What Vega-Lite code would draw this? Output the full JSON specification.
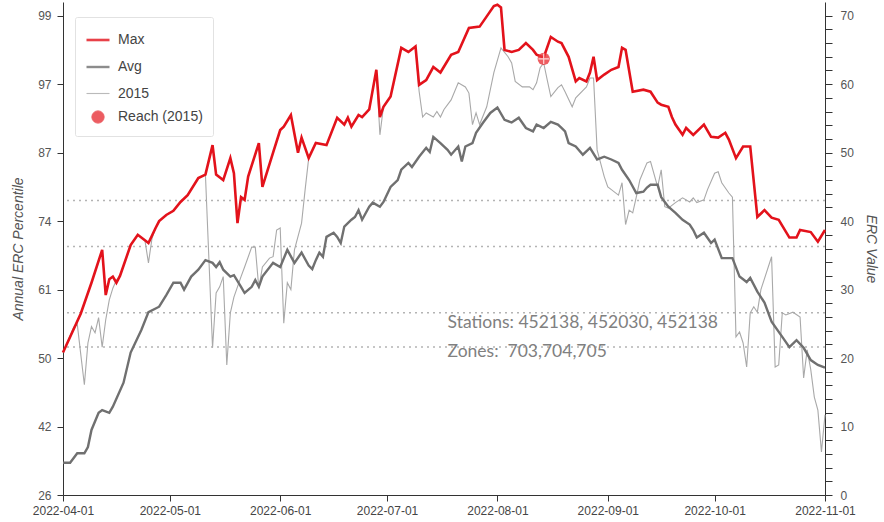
{
  "$schema": "https://vega.github.io/schema/vega-lite/v6.json",
  "width": 762,
  "height": 493,
  "autosize": {"type": "none"},
  "padding": {"left": 63, "top": 2, "right": 59, "bottom": 27},
  "background": "white",
  "config": {
    "view": {"stroke": null},
    "font": "Liberation Sans",
    "axis": {
      "labelFont": "Liberation Sans",
      "labelFontSize": 12,
      "labelColor": "#555555",
      "titleFont": "Liberation Sans",
      "titleColor": "#555555",
      "titleFontSize": 14,
      "titleFontStyle": "italic",
      "titleFontWeight": "normal",
      "domainColor": "#333333",
      "tickColor": "#333333",
      "grid": false
    },
    "legend": {
      "title": null, "orient": "none", "legendX": 12, "legendY": 15,
      "padding": 10, "strokeColor": "#e2e2e2", "fillColor": "#ffffff", "cornerRadius": 2,
      "rowPadding": 7, "labelOffset": 7,
      "labelFont": "Liberation Sans", "labelFontSize": 14, "labelColor": "#444444"
    }
  },
  "datasets": {
    "thr": [{"v": 43}, {"v": 36.3}, {"v": 26.6}, {"v": 21.6}],
    "reach": [{"date": "2022-08-14", "value": 63.7, "series": "Reach (2015)"}],
    "notes": [
      {"date": "2022-07-18", "v": 25.1, "t": "Stations: 452138, 452030, 452138"},
      {"date": "2022-07-18", "v": 20.9, "t": "Zones:\u00a0 703,704,705"}
    ],
    "series": [
      {"date":"2022-04-01","series":"Max","value":20.8},{"date":"2022-04-06","series":"Max","value":26.5},{"date":"2022-04-09","series":"Max","value":31},{"date":"2022-04-12","series":"Max","value":35.8},{"date":"2022-04-13","series":"Max","value":29.2},{"date":"2022-04-14","series":"Max","value":31.5},{"date":"2022-04-15","series":"Max","value":31.9},{"date":"2022-04-16","series":"Max","value":31},{"date":"2022-04-17","series":"Max","value":32},{"date":"2022-04-20","series":"Max","value":36.5},{"date":"2022-04-22","series":"Max","value":38},{"date":"2022-04-24","series":"Max","value":37.2},{"date":"2022-04-25","series":"Max","value":36.8},{"date":"2022-04-27","series":"Max","value":39},{"date":"2022-04-28","series":"Max","value":40},{"date":"2022-04-30","series":"Max","value":40.9},{"date":"2022-05-02","series":"Max","value":41.5},{"date":"2022-05-04","series":"Max","value":42.8},{"date":"2022-05-06","series":"Max","value":43.8},{"date":"2022-05-09","series":"Max","value":46.3},{"date":"2022-05-11","series":"Max","value":46.8},{"date":"2022-05-13","series":"Max","value":51.1},{"date":"2022-05-14","series":"Max","value":46.8},{"date":"2022-05-16","series":"Max","value":46},{"date":"2022-05-18","series":"Max","value":49.2},{"date":"2022-05-19","series":"Max","value":47},{"date":"2022-05-20","series":"Max","value":39.7},{"date":"2022-05-21","series":"Max","value":43.5},{"date":"2022-05-22","series":"Max","value":43.1},{"date":"2022-05-23","series":"Max","value":46.5},{"date":"2022-05-26","series":"Max","value":51.4},{"date":"2022-05-27","series":"Max","value":45},{"date":"2022-05-30","series":"Max","value":50},{"date":"2022-06-01","series":"Max","value":53.3},{"date":"2022-06-02","series":"Max","value":53.8},{"date":"2022-06-04","series":"Max","value":55.5},{"date":"2022-06-06","series":"Max","value":50},{"date":"2022-06-07","series":"Max","value":52.2},{"date":"2022-06-09","series":"Max","value":49.2},{"date":"2022-06-11","series":"Max","value":51.4},{"date":"2022-06-14","series":"Max","value":51.1},{"date":"2022-06-17","series":"Max","value":55.1},{"date":"2022-06-19","series":"Max","value":54.1},{"date":"2022-06-20","series":"Max","value":55.1},{"date":"2022-06-21","series":"Max","value":53.8},{"date":"2022-06-23","series":"Max","value":55.5},{"date":"2022-06-24","series":"Max","value":55.2},{"date":"2022-06-26","series":"Max","value":56.3},{"date":"2022-06-28","series":"Max","value":62.1},{"date":"2022-06-29","series":"Max","value":55.2},{"date":"2022-06-30","series":"Max","value":56.7},{"date":"2022-07-02","series":"Max","value":58.2},{"date":"2022-07-05","series":"Max","value":65.3},{"date":"2022-07-06","series":"Max","value":65},{"date":"2022-07-07","series":"Max","value":64.7},{"date":"2022-07-09","series":"Max","value":65.5},{"date":"2022-07-10","series":"Max","value":59.9},{"date":"2022-07-12","series":"Max","value":60.6},{"date":"2022-07-14","series":"Max","value":62.5},{"date":"2022-07-16","series":"Max","value":61.7},{"date":"2022-07-19","series":"Max","value":64.3},{"date":"2022-07-21","series":"Max","value":64.7},{"date":"2022-07-24","series":"Max","value":68.2},{"date":"2022-07-27","series":"Max","value":68.4},{"date":"2022-07-29","series":"Max","value":69.9},{"date":"2022-07-31","series":"Max","value":71.4},{"date":"2022-08-01","series":"Max","value":71.6},{"date":"2022-08-02","series":"Max","value":71.2},{"date":"2022-08-03","series":"Max","value":65},{"date":"2022-08-05","series":"Max","value":64.7},{"date":"2022-08-07","series":"Max","value":65},{"date":"2022-08-09","series":"Max","value":66},{"date":"2022-08-11","series":"Max","value":65},{"date":"2022-08-12","series":"Max","value":64.3},{"date":"2022-08-14","series":"Max","value":63.9},{"date":"2022-08-16","series":"Max","value":66.9},{"date":"2022-08-18","series":"Max","value":66.2},{"date":"2022-08-19","series":"Max","value":66},{"date":"2022-08-21","series":"Max","value":64},{"date":"2022-08-23","series":"Max","value":60.4},{"date":"2022-08-24","series":"Max","value":60.9},{"date":"2022-08-26","series":"Max","value":60.4},{"date":"2022-08-27","series":"Max","value":61.7},{"date":"2022-08-28","series":"Max","value":64},{"date":"2022-08-29","series":"Max","value":60.6},{"date":"2022-08-31","series":"Max","value":61.4},{"date":"2022-09-02","series":"Max","value":62.1},{"date":"2022-09-04","series":"Max","value":62.5},{"date":"2022-09-05","series":"Max","value":65.3},{"date":"2022-09-06","series":"Max","value":65},{"date":"2022-09-08","series":"Max","value":58.9},{"date":"2022-09-11","series":"Max","value":59.2},{"date":"2022-09-13","series":"Max","value":58.9},{"date":"2022-09-15","series":"Max","value":57.3},{"date":"2022-09-16","series":"Max","value":57},{"date":"2022-09-18","series":"Max","value":56.7},{"date":"2022-09-19","series":"Max","value":55.2},{"date":"2022-09-20","series":"Max","value":54.1},{"date":"2022-09-22","series":"Max","value":52.6},{"date":"2022-09-23","series":"Max","value":53.6},{"date":"2022-09-25","series":"Max","value":52.6},{"date":"2022-09-28","series":"Max","value":54.1},{"date":"2022-09-30","series":"Max","value":52.3},{"date":"2022-10-02","series":"Max","value":52.2},{"date":"2022-10-04","series":"Max","value":52.9},{"date":"2022-10-05","series":"Max","value":51.9},{"date":"2022-10-07","series":"Max","value":49.2},{"date":"2022-10-09","series":"Max","value":50.9},{"date":"2022-10-11","series":"Max","value":50.9},{"date":"2022-10-13","series":"Max","value":40.6},{"date":"2022-10-15","series":"Max","value":41.6},{"date":"2022-10-17","series":"Max","value":40.5},{"date":"2022-10-19","series":"Max","value":40.2},{"date":"2022-10-22","series":"Max","value":37.6},{"date":"2022-10-24","series":"Max","value":37.6},{"date":"2022-10-25","series":"Max","value":38.7},{"date":"2022-10-28","series":"Max","value":38.4},{"date":"2022-10-30","series":"Max","value":37},{"date":"2022-11-01","series":"Max","value":38.7},
      {"date":"2022-04-01","series":"Avg","value":4.7},{"date":"2022-04-03","series":"Avg","value":4.7},{"date":"2022-04-05","series":"Avg","value":6.1},{"date":"2022-04-07","series":"Avg","value":6.1},{"date":"2022-04-08","series":"Avg","value":7},{"date":"2022-04-09","series":"Avg","value":9.5},{"date":"2022-04-11","series":"Avg","value":12},{"date":"2022-04-12","series":"Avg","value":12.4},{"date":"2022-04-14","series":"Avg","value":12},{"date":"2022-04-15","series":"Avg","value":12.9},{"date":"2022-04-18","series":"Avg","value":16.4},{"date":"2022-04-20","series":"Avg","value":20.8},{"date":"2022-04-23","series":"Avg","value":24.1},{"date":"2022-04-25","series":"Avg","value":26.7},{"date":"2022-04-28","series":"Avg","value":27.5},{"date":"2022-04-30","series":"Avg","value":29.2},{"date":"2022-05-02","series":"Avg","value":31},{"date":"2022-05-04","series":"Avg","value":31},{"date":"2022-05-05","series":"Avg","value":30},{"date":"2022-05-07","series":"Avg","value":31.9},{"date":"2022-05-09","series":"Avg","value":32.9},{"date":"2022-05-11","series":"Avg","value":34.3},{"date":"2022-05-13","series":"Avg","value":33.9},{"date":"2022-05-14","series":"Avg","value":33.3},{"date":"2022-05-15","series":"Avg","value":34},{"date":"2022-05-16","series":"Avg","value":32.9},{"date":"2022-05-18","series":"Avg","value":31.9},{"date":"2022-05-19","series":"Avg","value":32.1},{"date":"2022-05-21","series":"Avg","value":30.4},{"date":"2022-05-22","series":"Avg","value":29.5},{"date":"2022-05-24","series":"Avg","value":30.4},{"date":"2022-05-25","series":"Avg","value":31.4},{"date":"2022-05-26","series":"Avg","value":30.4},{"date":"2022-05-27","series":"Avg","value":31.9},{"date":"2022-05-30","series":"Avg","value":33.9},{"date":"2022-06-01","series":"Avg","value":33.3},{"date":"2022-06-03","series":"Avg","value":35.8},{"date":"2022-06-05","series":"Avg","value":33.9},{"date":"2022-06-07","series":"Avg","value":35.4},{"date":"2022-06-09","series":"Avg","value":33.5},{"date":"2022-06-10","series":"Avg","value":33},{"date":"2022-06-11","series":"Avg","value":34.3},{"date":"2022-06-12","series":"Avg","value":35.4},{"date":"2022-06-13","series":"Avg","value":34.8},{"date":"2022-06-14","series":"Avg","value":37.7},{"date":"2022-06-16","series":"Avg","value":38.3},{"date":"2022-06-17","series":"Avg","value":37.7},{"date":"2022-06-18","series":"Avg","value":36.8},{"date":"2022-06-19","series":"Avg","value":39.2},{"date":"2022-06-21","series":"Avg","value":40.2},{"date":"2022-06-22","series":"Avg","value":40.6},{"date":"2022-06-23","series":"Avg","value":41.6},{"date":"2022-06-24","series":"Avg","value":40.2},{"date":"2022-06-26","series":"Avg","value":42.1},{"date":"2022-06-27","series":"Avg","value":42.7},{"date":"2022-06-29","series":"Avg","value":42.1},{"date":"2022-06-30","series":"Avg","value":42.8},{"date":"2022-07-02","series":"Avg","value":45},{"date":"2022-07-04","series":"Avg","value":46},{"date":"2022-07-05","series":"Avg","value":47.5},{"date":"2022-07-07","series":"Avg","value":48.5},{"date":"2022-07-08","series":"Avg","value":47.9},{"date":"2022-07-10","series":"Avg","value":49.4},{"date":"2022-07-12","series":"Avg","value":50.7},{"date":"2022-07-13","series":"Avg","value":50.1},{"date":"2022-07-14","series":"Avg","value":52.3},{"date":"2022-07-16","series":"Avg","value":51.4},{"date":"2022-07-18","series":"Avg","value":50.4},{"date":"2022-07-19","series":"Avg","value":49.7},{"date":"2022-07-21","series":"Avg","value":50.9},{"date":"2022-07-22","series":"Avg","value":48.7},{"date":"2022-07-23","series":"Avg","value":50.9},{"date":"2022-07-25","series":"Avg","value":51.4},{"date":"2022-07-26","series":"Avg","value":52.9},{"date":"2022-07-28","series":"Avg","value":54.4},{"date":"2022-07-30","series":"Avg","value":55.8},{"date":"2022-08-01","series":"Avg","value":56.6},{"date":"2022-08-03","series":"Avg","value":54.8},{"date":"2022-08-05","series":"Avg","value":54.4},{"date":"2022-08-07","series":"Avg","value":55.1},{"date":"2022-08-09","series":"Avg","value":53.6},{"date":"2022-08-11","series":"Avg","value":53.1},{"date":"2022-08-12","series":"Avg","value":54.1},{"date":"2022-08-14","series":"Avg","value":53.6},{"date":"2022-08-16","series":"Avg","value":54.5},{"date":"2022-08-18","series":"Avg","value":54.1},{"date":"2022-08-19","series":"Avg","value":53.6},{"date":"2022-08-20","series":"Avg","value":53.1},{"date":"2022-08-21","series":"Avg","value":51.4},{"date":"2022-08-23","series":"Avg","value":50.9},{"date":"2022-08-25","series":"Avg","value":49.7},{"date":"2022-08-27","series":"Avg","value":50.7},{"date":"2022-08-29","series":"Avg","value":49},{"date":"2022-08-31","series":"Avg","value":49.4},{"date":"2022-09-02","series":"Avg","value":49},{"date":"2022-09-04","series":"Avg","value":48.5},{"date":"2022-09-05","series":"Avg","value":47.5},{"date":"2022-09-07","series":"Avg","value":46},{"date":"2022-09-09","series":"Avg","value":44.1},{"date":"2022-09-11","series":"Avg","value":44.3},{"date":"2022-09-12","series":"Avg","value":44.9},{"date":"2022-09-13","series":"Avg","value":45.3},{"date":"2022-09-15","series":"Avg","value":45.3},{"date":"2022-09-16","series":"Avg","value":43.5},{"date":"2022-09-18","series":"Avg","value":42.1},{"date":"2022-09-20","series":"Avg","value":41.2},{"date":"2022-09-22","series":"Avg","value":40.2},{"date":"2022-09-24","series":"Avg","value":39.5},{"date":"2022-09-25","series":"Avg","value":38.7},{"date":"2022-09-26","series":"Avg","value":37.6},{"date":"2022-09-28","series":"Avg","value":38.3},{"date":"2022-09-30","series":"Avg","value":36.8},{"date":"2022-10-01","series":"Avg","value":37.3},{"date":"2022-10-03","series":"Avg","value":34.6},{"date":"2022-10-06","series":"Avg","value":34.6},{"date":"2022-10-08","series":"Avg","value":31.9},{"date":"2022-10-10","series":"Avg","value":31.1},{"date":"2022-10-11","series":"Avg","value":31.7},{"date":"2022-10-13","series":"Avg","value":29.7},{"date":"2022-10-15","series":"Avg","value":28.1},{"date":"2022-10-17","series":"Avg","value":25.3},{"date":"2022-10-20","series":"Avg","value":23.1},{"date":"2022-10-22","series":"Avg","value":21.6},{"date":"2022-10-24","series":"Avg","value":22.6},{"date":"2022-10-26","series":"Avg","value":21.5},{"date":"2022-10-28","series":"Avg","value":19.7},{"date":"2022-10-30","series":"Avg","value":19},{"date":"2022-11-01","series":"Avg","value":18.6},
      {"date":"2022-04-01","series":"2015","value":20.8},{"date":"2022-04-04","series":"2015","value":24.5},{"date":"2022-04-05","series":"2015","value":25},{"date":"2022-04-06","series":"2015","value":20.5},{"date":"2022-04-07","series":"2015","value":16.1},{"date":"2022-04-08","series":"2015","value":22.2},{"date":"2022-04-09","series":"2015","value":24.6},{"date":"2022-04-10","series":"2015","value":23.7},{"date":"2022-04-11","series":"2015","value":25.9},{"date":"2022-04-12","series":"2015","value":21.6},{"date":"2022-04-13","series":"2015","value":25.6},{"date":"2022-04-14","series":"2015","value":28.5},{"date":"2022-04-15","series":"2015","value":30.2},{"date":"2022-04-16","series":"2015","value":31.4},{"date":"2022-04-17","series":"2015","value":32},{"date":"2022-04-20","series":"2015","value":36.5},{"date":"2022-04-22","series":"2015","value":38},{"date":"2022-04-24","series":"2015","value":37.2},{"date":"2022-04-25","series":"2015","value":33.9},{"date":"2022-04-26","series":"2015","value":37.5},{"date":"2022-04-27","series":"2015","value":39},{"date":"2022-04-28","series":"2015","value":40},{"date":"2022-04-30","series":"2015","value":40.9},{"date":"2022-05-02","series":"2015","value":41.5},{"date":"2022-05-04","series":"2015","value":42.8},{"date":"2022-05-06","series":"2015","value":43.8},{"date":"2022-05-09","series":"2015","value":46.3},{"date":"2022-05-11","series":"2015","value":46.8},{"date":"2022-05-13","series":"2015","value":21.5},{"date":"2022-05-14","series":"2015","value":29.5},{"date":"2022-05-15","series":"2015","value":30.4},{"date":"2022-05-16","series":"2015","value":31.9},{"date":"2022-05-17","series":"2015","value":19},{"date":"2022-05-18","series":"2015","value":26.6},{"date":"2022-05-19","series":"2015","value":28.9},{"date":"2022-05-21","series":"2015","value":31.9},{"date":"2022-05-22","series":"2015","value":33.3},{"date":"2022-05-24","series":"2015","value":36.2},{"date":"2022-05-25","series":"2015","value":36.2},{"date":"2022-05-26","series":"2015","value":30.2},{"date":"2022-05-27","series":"2015","value":33.3},{"date":"2022-05-29","series":"2015","value":34.6},{"date":"2022-05-30","series":"2015","value":34.8},{"date":"2022-05-31","series":"2015","value":38.7},{"date":"2022-06-01","series":"2015","value":39},{"date":"2022-06-02","series":"2015","value":25.1},{"date":"2022-06-03","series":"2015","value":31},{"date":"2022-06-04","series":"2015","value":30},{"date":"2022-06-05","series":"2015","value":35.8},{"date":"2022-06-07","series":"2015","value":39.7},{"date":"2022-06-08","series":"2015","value":44.6},{"date":"2022-06-09","series":"2015","value":49.2},{"date":"2022-06-11","series":"2015","value":51.4},{"date":"2022-06-14","series":"2015","value":51.1},{"date":"2022-06-17","series":"2015","value":55.1},{"date":"2022-06-19","series":"2015","value":54.1},{"date":"2022-06-20","series":"2015","value":55.1},{"date":"2022-06-21","series":"2015","value":53.8},{"date":"2022-06-23","series":"2015","value":55.5},{"date":"2022-06-24","series":"2015","value":55.2},{"date":"2022-06-26","series":"2015","value":56.3},{"date":"2022-06-28","series":"2015","value":62.1},{"date":"2022-06-29","series":"2015","value":52.6},{"date":"2022-06-30","series":"2015","value":56.7},{"date":"2022-07-02","series":"2015","value":58.2},{"date":"2022-07-05","series":"2015","value":65.3},{"date":"2022-07-06","series":"2015","value":65},{"date":"2022-07-07","series":"2015","value":64.7},{"date":"2022-07-09","series":"2015","value":65.5},{"date":"2022-07-10","series":"2015","value":59},{"date":"2022-07-11","series":"2015","value":55.2},{"date":"2022-07-12","series":"2015","value":55.8},{"date":"2022-07-14","series":"2015","value":55.2},{"date":"2022-07-15","series":"2015","value":56},{"date":"2022-07-16","series":"2015","value":55.2},{"date":"2022-07-17","series":"2015","value":56.3},{"date":"2022-07-19","series":"2015","value":57.7},{"date":"2022-07-21","series":"2015","value":60.2},{"date":"2022-07-23","series":"2015","value":59.6},{"date":"2022-07-24","series":"2015","value":58.7},{"date":"2022-07-25","series":"2015","value":54.1},{"date":"2022-07-26","series":"2015","value":55.8},{"date":"2022-07-27","series":"2015","value":54.1},{"date":"2022-07-29","series":"2015","value":56.7},{"date":"2022-07-31","series":"2015","value":61.7},{"date":"2022-08-02","series":"2015","value":65.3},{"date":"2022-08-04","series":"2015","value":64},{"date":"2022-08-05","series":"2015","value":63.1},{"date":"2022-08-06","series":"2015","value":60.4},{"date":"2022-08-08","series":"2015","value":59.6},{"date":"2022-08-10","series":"2015","value":59.6},{"date":"2022-08-11","series":"2015","value":59.2},{"date":"2022-08-12","series":"2015","value":60.2},{"date":"2022-08-13","series":"2015","value":62.4},{"date":"2022-08-14","series":"2015","value":63.1},{"date":"2022-08-15","series":"2015","value":60.6},{"date":"2022-08-16","series":"2015","value":58.2},{"date":"2022-08-18","series":"2015","value":59.5},{"date":"2022-08-19","series":"2015","value":59.9},{"date":"2022-08-20","series":"2015","value":58.9},{"date":"2022-08-22","series":"2015","value":56.7},{"date":"2022-08-23","series":"2015","value":58},{"date":"2022-08-26","series":"2015","value":59.6},{"date":"2022-08-27","series":"2015","value":60.9},{"date":"2022-08-28","series":"2015","value":60.9},{"date":"2022-08-29","series":"2015","value":50.4},{"date":"2022-08-31","series":"2015","value":46.5},{"date":"2022-09-01","series":"2015","value":45},{"date":"2022-09-02","series":"2015","value":44.6},{"date":"2022-09-04","series":"2015","value":43.8},{"date":"2022-09-05","series":"2015","value":45.6},{"date":"2022-09-06","series":"2015","value":39.5},{"date":"2022-09-07","series":"2015","value":41.6},{"date":"2022-09-08","series":"2015","value":41.2},{"date":"2022-09-09","series":"2015","value":43.5},{"date":"2022-09-10","series":"2015","value":46},{"date":"2022-09-12","series":"2015","value":48.5},{"date":"2022-09-13","series":"2015","value":48.7},{"date":"2022-09-15","series":"2015","value":45},{"date":"2022-09-16","series":"2015","value":47.5},{"date":"2022-09-17","series":"2015","value":42.1},{"date":"2022-09-18","series":"2015","value":41.9},{"date":"2022-09-20","series":"2015","value":42.7},{"date":"2022-09-22","series":"2015","value":43.4},{"date":"2022-09-24","series":"2015","value":42.8},{"date":"2022-09-25","series":"2015","value":43.4},{"date":"2022-09-26","series":"2015","value":42.7},{"date":"2022-09-28","series":"2015","value":43.1},{"date":"2022-09-29","series":"2015","value":44.6},{"date":"2022-10-01","series":"2015","value":47},{"date":"2022-10-02","series":"2015","value":47.2},{"date":"2022-10-03","series":"2015","value":45.6},{"date":"2022-10-05","series":"2015","value":44.1},{"date":"2022-10-06","series":"2015","value":43.5},{"date":"2022-10-07","series":"2015","value":23.1},{"date":"2022-10-08","series":"2015","value":23.8},{"date":"2022-10-09","series":"2015","value":22.2},{"date":"2022-10-10","series":"2015","value":18.7},{"date":"2022-10-11","series":"2015","value":26.6},{"date":"2022-10-12","series":"2015","value":27.5},{"date":"2022-10-13","series":"2015","value":26.7},{"date":"2022-10-14","series":"2015","value":30},{"date":"2022-10-17","series":"2015","value":34.8},{"date":"2022-10-18","series":"2015","value":18.7},{"date":"2022-10-19","series":"2015","value":19},{"date":"2022-10-20","series":"2015","value":26.6},{"date":"2022-10-21","series":"2015","value":26.3},{"date":"2022-10-23","series":"2015","value":26.7},{"date":"2022-10-25","series":"2015","value":26},{"date":"2022-10-26","series":"2015","value":17.1},{"date":"2022-10-27","series":"2015","value":21.2},{"date":"2022-10-28","series":"2015","value":18.3},{"date":"2022-10-29","series":"2015","value":14.3},{"date":"2022-10-30","series":"2015","value":12.4},{"date":"2022-10-31","series":"2015","value":6.3},{"date":"2022-11-01","series":"2015","value":11.7}
    ]
  },
  "layer": [
    {
      "data": {"name": "thr"},
      "mark": {"type": "rule", "color": "#b4b4b4", "strokeDash": [2, 4], "strokeWidth": 1.5},
      "encoding": {
        "y": {
          "field": "v", "type": "quantitative",
          "scale": {"domain": [0, 72], "nice": false, "zero": false},
          "axis": {
            "orient": "left",
            "title": "Annual ERC Percentile",
            "values": [0, 10, 20, 30, 40, 50, 60, 70],
            "labelExpr": "['26','42','50','61','74','87','97','99'][round(datum.value/10)]",
            "tickSize": 6,
            "labelPadding": 6,
            "titlePadding": 12
          }
        }
      }
    },
    {
      "data": {"name": "series"},
      "transform": [{"filter": "datum.series === '2015'"}],
      "mark": {"type": "line"},
      "encoding": {
        "x": {
          "field": "date", "type": "temporal",
          "scale": {"type": "utc", "domain": [{"year": 2022, "month": "apr", "date": 1, "utc": true}, {"year": 2022, "month": "nov", "date": 1, "utc": true}]},
          "axis": {
            "title": null,
            "values": [
              {"year": 2022, "month": "apr", "date": 1, "utc": true},
              {"year": 2022, "month": "may", "date": 1, "utc": true},
              {"year": 2022, "month": "jun", "date": 1, "utc": true},
              {"year": 2022, "month": "jul", "date": 1, "utc": true},
              {"year": 2022, "month": "aug", "date": 1, "utc": true},
              {"year": 2022, "month": "sep", "date": 1, "utc": true},
              {"year": 2022, "month": "oct", "date": 1, "utc": true},
              {"year": 2022, "month": "nov", "date": 1, "utc": true}
            ],
            "labelExpr": "utcFormat(datum.value, '%Y-%m-%d')",
            "labelFontSize": 12,
            "labelColor": "#444444",
            "tickSize": 6,
            "labelPadding": 4,
            "labelOverlap": false,
            "labelFlush": false
          }
        },
        "y": {"field": "value", "type": "quantitative", "scale": {"domain": [0, 72], "nice": false, "zero": false}, "axis": null},
        "color": {"field": "series", "type": "nominal", "scale": {"domain": ["Max", "Avg", "2015", "Reach (2015)"], "range": ["#e3121b", "#707070", "#a9a9a9", "#e8343a"]}},
        "strokeWidth": {"field": "series", "type": "nominal", "scale": {"type": "ordinal", "domain": ["Max", "Avg", "2015", "Reach (2015)"], "range": [2.6, 2.4, 1.1, 1]}}
      }
    },
    {
      "data": {"name": "series"},
      "transform": [{"filter": "datum.series === 'Avg'"}],
      "mark": {"type": "line"},
      "encoding": {
        "x": {"field": "date", "type": "temporal", "scale": {"type": "utc"}, "axis": {"title": null, "labelExpr": "utcFormat(datum.value, '%Y-%m-%d')"}},
        "y": {"field": "value", "type": "quantitative", "scale": {"domain": [0, 72], "nice": false, "zero": false}, "axis": null},
        "color": {"field": "series", "type": "nominal", "scale": {"domain": ["Max", "Avg", "2015", "Reach (2015)"], "range": ["#e3121b", "#707070", "#a9a9a9", "#e8343a"]}},
        "strokeWidth": {"field": "series", "type": "nominal", "scale": {"type": "ordinal", "domain": ["Max", "Avg", "2015", "Reach (2015)"], "range": [2.6, 2.4, 1.1, 1]}}
      }
    },
    {
      "data": {"name": "series"},
      "transform": [{"filter": "datum.series === 'Max'"}],
      "mark": {"type": "line"},
      "encoding": {
        "x": {"field": "date", "type": "temporal", "scale": {"type": "utc"}, "axis": {"title": null, "labelExpr": "utcFormat(datum.value, '%Y-%m-%d')"}},
        "y": {
          "field": "value", "type": "quantitative",
          "scale": {"domain": [0, 72], "nice": false, "zero": false},
          "axis": {
            "orient": "right",
            "title": "ERC Value",
            "titleAngle": 90,
            "values": [0, 2, 4, 6, 8, 10, 12, 14, 16, 18, 20, 22, 24, 26, 28, 30, 32, 34, 36, 38, 40, 42, 44, 46, 48, 50, 52, 54, 56, 58, 60, 62, 64, 66, 68, 70],
            "labelExpr": "datum.value % 10 === 0 ? datum.label : ''",
            "tickSize": 7,
            "labelPadding": 8,
            "titlePadding": 10,
            "encode": {"ticks": {"x2": {"condition": {"test": "datum.value % 10 === 0", "value": 7}, "value": 4}}}
          }
        },
        "color": {"field": "series", "type": "nominal", "scale": {"domain": ["Max", "Avg", "2015", "Reach (2015)"], "range": ["#e3121b", "#707070", "#a9a9a9", "#e8343a"]}},
        "strokeWidth": {"field": "series", "type": "nominal", "scale": {"type": "ordinal", "domain": ["Max", "Avg", "2015", "Reach (2015)"], "range": [2.6, 2.4, 1.1, 1]}}
      }
    },
    {
      "data": {"name": "reach"},
      "mark": {"type": "point", "filled": true, "opacity": 0.8},
      "encoding": {
        "x": {"field": "date", "type": "temporal", "scale": {"type": "utc"}, "axis": {"title": null, "labelExpr": "utcFormat(datum.value, '%Y-%m-%d')"}},
        "y": {"field": "value", "type": "quantitative", "scale": {"domain": [0, 72], "nice": false, "zero": false}, "axis": null},
        "color": {"field": "series", "type": "nominal", "scale": {"domain": ["Max", "Avg", "2015", "Reach (2015)"], "range": ["#e3121b", "#707070", "#a9a9a9", "#e8343a"]}},
        "strokeWidth": {"field": "series", "type": "nominal", "scale": {"type": "ordinal", "domain": ["Max", "Avg", "2015", "Reach (2015)"], "range": [2.6, 2.4, 1.1, 1]}},
        "shape": {"field": "series", "type": "nominal", "scale": {"domain": ["Max", "Avg", "2015", "Reach (2015)"], "range": ["stroke", "stroke", "stroke", "circle"]}},
        "size": {"field": "series", "type": "nominal", "scale": {"type": "ordinal", "domain": ["Max", "Avg", "2015", "Reach (2015)"], "range": [529, 529, 529, 150]}}
      }
    },
    {
      "data": {"name": "reach"},
      "mark": {"type": "point", "shape": "M-1,0L1,0M0,-1L0,1", "filled": false, "size": 110, "stroke": "#ffd6d6", "strokeWidth": 1.2, "opacity": 1},
      "encoding": {
        "x": {"field": "date", "type": "temporal", "scale": {"type": "utc"}, "axis": {"title": null, "labelExpr": "utcFormat(datum.value, '%Y-%m-%d')"}},
        "y": {"field": "value", "type": "quantitative", "scale": {"domain": [0, 72], "nice": false, "zero": false}, "axis": null}
      }
    },
    {
      "data": {"name": "notes"},
      "mark": {"type": "text", "align": "left", "baseline": "middle", "font": "Lato", "fontSize": 17.5, "color": "#808080"},
      "encoding": {
        "x": {"field": "date", "type": "temporal", "scale": {"type": "utc"}, "axis": {"title": null, "labelExpr": "utcFormat(datum.value, '%Y-%m-%d')"}},
        "y": {"field": "v", "type": "quantitative", "scale": {"domain": [0, 72], "nice": false, "zero": false}, "axis": null},
        "text": {"field": "t"}
      }
    }
  ],
  "resolve": {"axis": {"y": "independent"}}
}
